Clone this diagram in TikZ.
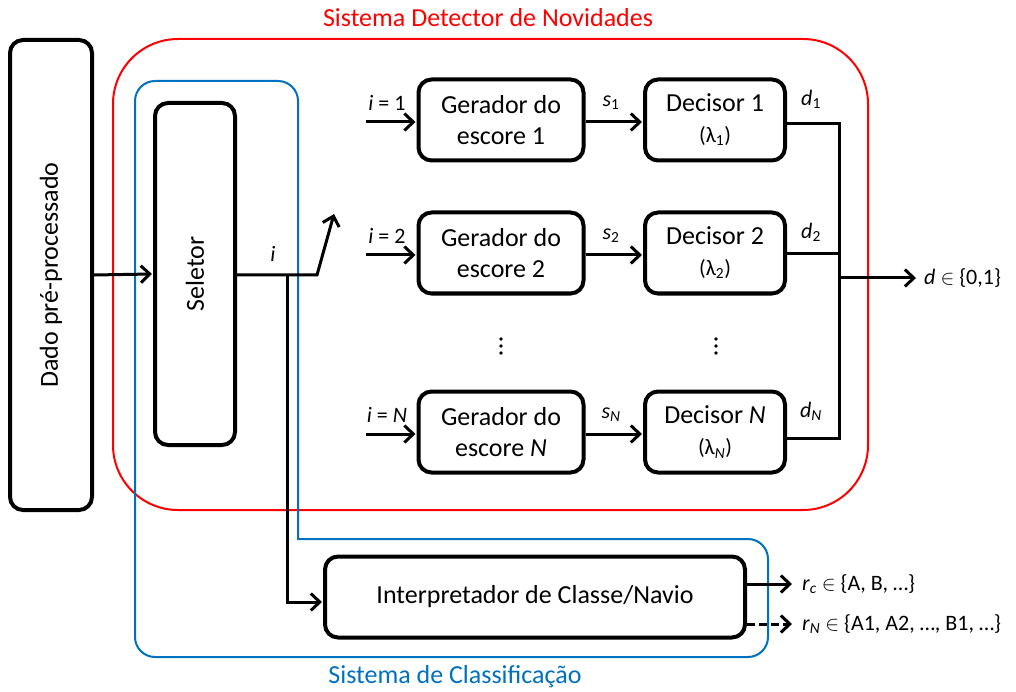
\documentclass[tikz,border=0pt]{standalone}
\usepackage{fontspec}
\setmainfont{Carlito}
\usetikzlibrary{arrows.meta}
\definecolor{redc}{RGB}{255,0,0}
\definecolor{bluec}{RGB}{0,112,192}
\begin{document}
\begin{tikzpicture}[x=1pt,y=-1pt,
  blk/.style={draw,line width=4pt,rounded corners=13pt,align=center,inner sep=0pt,font=\fontsize{26}{31}\selectfont},
  conn/.style={line width=3pt,-{Straight Barb[length=9pt,width=17pt,line width=3pt]}},
  dconn/.style={conn,dash pattern=on 8pt off 4pt},
  wire/.style={line width=3pt},
  lbl/.style={font=\fontsize{22}{26}\selectfont,inner sep=1pt},
  ttl/.style={font=\fontsize{26}{30}\selectfont,inner sep=1pt},
  vtxt/.style={rotate=90,font=\fontsize{26}{30}\selectfont}]
\useasboundingbox (0,0) rectangle (1016,692);
% outlines
\draw[redc,line width=2pt,rounded corners=65pt] (113,39) rectangle (868,510);
\draw[bluec,line width=2pt,rounded corners=20pt] (135,400) -- (135,81) -- (298,81) [sharp corners] -- (298,539) [rounded corners=20pt] -- (768,539) -- (768,657) -- (135,657) -- cycle;
\node[ttl,text=redc] (t1) at (488,18) {Sistema Detector de Novidades};
\node[ttl,text=bluec] (t2) at (455,677) {Sistema de Classificação};
% main blocks
\node[blk,minimum width=82pt,minimum height=470pt] (dado) at (51,275) {};
\node[vtxt] (dadot) at (dado.center) {Dado pré-processado};
\node[blk,minimum width=80pt,minimum height=342pt] (sel) at (195,274) {};
\node[vtxt] (selt) at (sel.center) {Seletor};
\foreach \n/\y/\k in {1/120/1,2/253/2,N/432/\textit{N}}{
  \node[blk,minimum width=165pt,minimum height=81pt] (g\n) at (501,\y) {Gerador do\\escore \k};
  \node[blk,minimum width=140pt,minimum height=81pt] (d\n) at (715,\y) {Decisor \k\\{\fontsize{22}{26}\selectfont(λ\textsubscript{\k})}};
  \coordinate (in\n) at (366,\y+2);
  \draw[conn] (in\n) -- ([xshift=-1pt]g\n.west |- in\n);
  \draw[conn] (g\n.east |- in\n) -- ([xshift=-1pt]d\n.west |- in\n);
  \node[lbl] (il\n) at (387,\y-17) {\textit{i} = \k};
  \node[lbl] (sl\n) at (611,\y-17) {\textit{s}\textsubscript{\k}};
  \node[lbl] (dl\n) at (811,\y-21) {\textit{d}\textsubscript{\k}};
}
\foreach \x in {501,716}{
  \fill (\x,339) circle (1.9);
  \fill (\x,346) circle (1.9);
  \fill (\x,353) circle (1.9);
}
\node[blk,minimum width=420pt,minimum height=81pt] (interp) at (535,597) {Interpretador de Classe/Navio};
% connectors
\draw[conn] (dado.east) -- ([xshift=-1pt]sel.west);
\coordinate (k) at (317,275);
\coordinate (sw) at (334,214);
\coordinate (br) at (287,275);
\draw[conn,line join=miter] (sel.east |- k) -- (k) -- (sw);
\draw[conn] (br) |- ([xshift=-1pt]interp.west |- 0,602);
\node[lbl] (il) at (273,254) {\textit{i}};
\coordinate (jx) at (839,0);
\node[lbl,anchor=west] (out) at (923,278) {\textit{d} $\in$ \{0,1\}};
\draw[wire] (d1.east |- 0,124) -- (jx |- 0,124) -- (jx |- 0,438) -- (dN.east |- 0,438);
\draw[wire] (d2.east |- 0,254) -- (jx |- 0,254);
\draw[conn] (jx |- out) -- ([xshift=-7pt]out.west);
\node[lbl,anchor=west] (rc) at (801,584) {\textit{r}\textsubscript{\textit{c}} $\in$ \{A, B, …\}};
\node[lbl,anchor=west] (rn) at (801,624) {\textit{r}\textsubscript{\textit{N}} $\in$ \{A1, A2, …, B1, …\}};
\draw[conn] (interp.east |- rc) -- ([xshift=-9pt]rc.west);
\draw[dconn] (interp.east |- rn) -- ([xshift=-9pt]rn.west);
\end{tikzpicture}
\end{document}
